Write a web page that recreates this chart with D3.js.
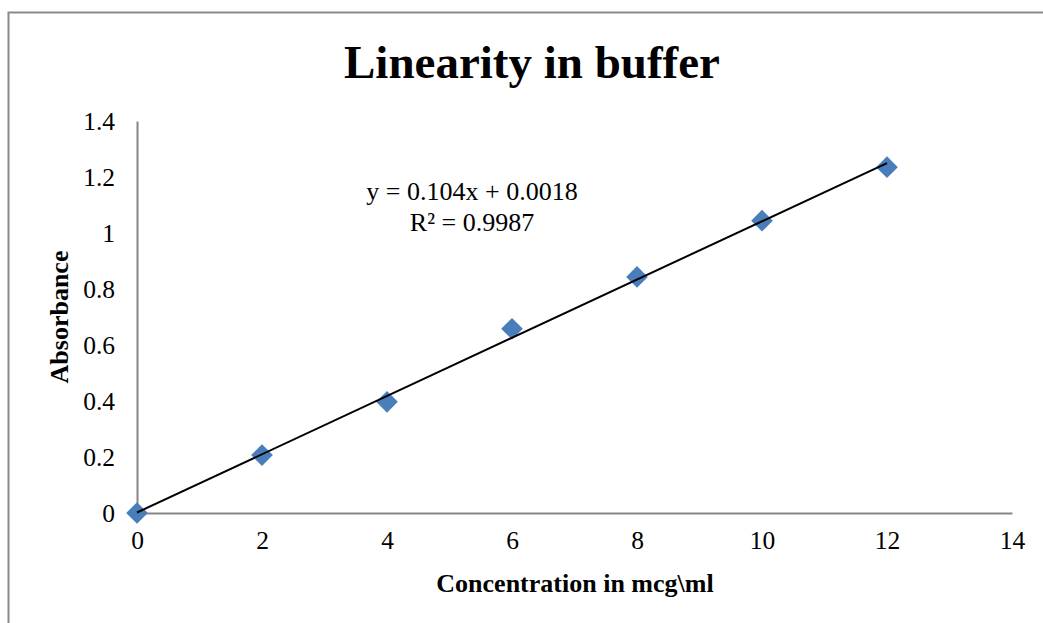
<!DOCTYPE html>
<html>
<head>
<meta charset="utf-8">
<script src="https://cdn.jsdelivr.net/npm/d3@7"></script>
<style>
  body { margin: 0; background: #fff; }
  text { font-family: "Liberation Serif", "Times New Roman", serif; fill: #000; }
</style>
</head>
<body>
<svg id="chart"></svg>
<script>
  // Data
  const concentration = [0, 2, 4, 6, 8, 10, 12];
  const absorbance = [0, 0.207, 0.397, 0.658, 0.843, 1.044, 1.235];
  const xTicks = [0, 2, 4, 6, 8, 10, 12, 14];
  const yTicks = [0, 0.2, 0.4, 0.6, 0.8, 1, 1.2, 1.4];
  const slope = 0.104, intercept = 0.0018, r2 = 0.9987;

  const W = 1043, H = 623;
  const margin = { top: 121, right: 30, bottom: 110, left: 137 };

  const svg = d3.select("#chart").attr("width", W).attr("height", H);

  // outer chart frame (cut off at right and bottom)
  svg.append("rect")
    .attr("x", 8.5).attr("y", 12.5)
    .attr("width", W + 20).attr("height", H + 20)
    .attr("fill", "none").attr("stroke", "#8a8a8a").attr("stroke-width", 2);

  const x = d3.scaleLinear().domain([0, 14]).range([margin.left, 1012]);
  const y = d3.scaleLinear().domain([0, 1.4]).range([513, margin.top]);

  // x axis
  const gx = svg.append("g")
    .attr("transform", `translate(0,${y(0)})`)
    .call(d3.axisBottom(x).tickValues(xTicks).tickSize(0).tickPadding(18).tickFormat(d3.format("d")));
  gx.select(".domain").attr("stroke", "#868686").attr("stroke-width", 2);
  gx.selectAll("text").style("font-size", "25.5px").style("font-family", "Liberation Serif").attr("fill", "#000");

  // y axis
  const gy = svg.append("g")
    .attr("transform", `translate(${x(0)},0)`)
    .call(d3.axisLeft(y).tickValues(yTicks).tickSize(0).tickPadding(22).tickFormat(d => d3.format("")(+d.toFixed(1))));
  gy.select(".domain").attr("stroke", "#868686").attr("stroke-width", 2);
  gy.selectAll("text").style("font-size", "25.5px").style("font-family", "Liberation Serif").attr("fill", "#000");

  // markers (diamonds)
  const diamond = d3.symbol().type(d3.symbolSquare).size(235);
  svg.selectAll(".pt")
    .data(concentration.map((c, i) => ({ c, a: absorbance[i] })))
    .join("path")
    .attr("class", "pt")
    .attr("d", diamond)
    .attr("transform", d => `translate(${x(d.c)},${y(d.a)}) rotate(45)`)
    .attr("fill", "#4a7ebb");

  // linear trendline, drawn over the markers
  const xs = d3.extent(concentration);
  svg.append("line")
    .attr("x1", x(xs[0])).attr("y1", y(slope * xs[0] + intercept))
    .attr("x2", x(xs[1])).attr("y2", y(slope * xs[1] + intercept))
    .attr("stroke", "#000").attr("stroke-width", 2);

  // title
  svg.append("text")
    .attr("x", 532).attr("y", 78)
    .attr("text-anchor", "middle")
    .style("font-size", "47px").style("font-weight", "bold")
    .text("Linearity in buffer");

  // equation
  const eq = svg.append("text")
    .attr("text-anchor", "middle")
    .style("font-size", "26px");
  eq.append("tspan").attr("x", 472).attr("y", 200)
    .text(`y = ${slope}x + ${intercept}`);
  eq.append("tspan").attr("x", 472).attr("y", 231)
    .text(`R² = ${r2}`);

  // axis titles
  svg.append("text")
    .attr("x", 575).attr("y", 592)
    .attr("text-anchor", "middle")
    .style("font-size", "26px").style("font-weight", "bold")
    .text("Concentration in mcg\\ml");

  svg.append("text")
    .attr("transform", `translate(68,317) rotate(-90)`)
    .attr("text-anchor", "middle")
    .style("font-size", "26px").style("font-weight", "bold")
    .text("Absorbance");
</script>
</body>
</html>
